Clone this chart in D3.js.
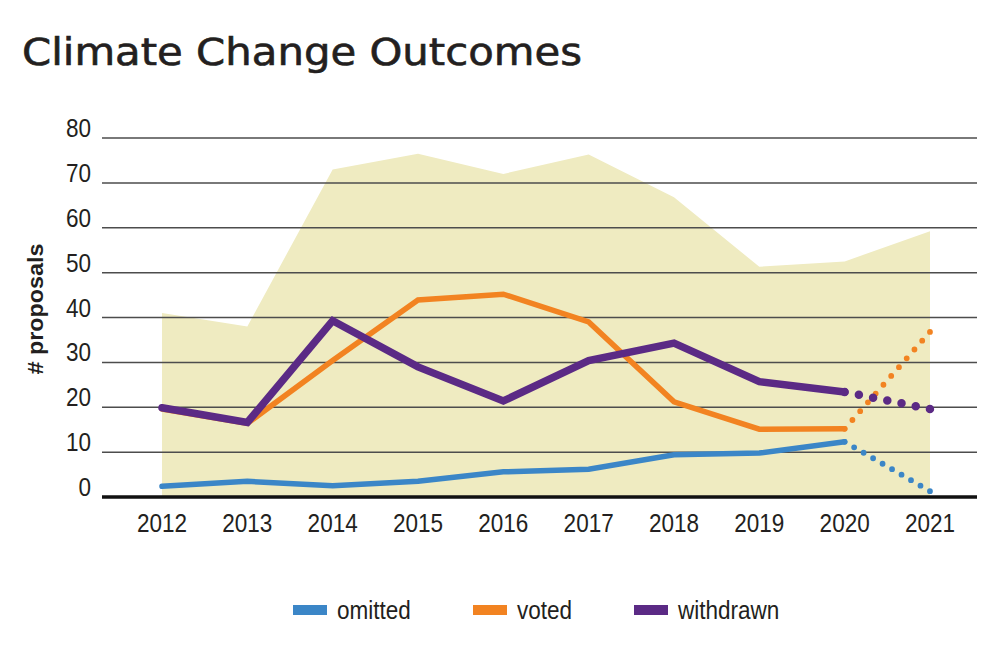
<!DOCTYPE html>
<html>
<head>
<meta charset="utf-8">
<script src="https://cdn.jsdelivr.net/npm/d3@7"></script>
<style>
  html, body { margin: 0; padding: 0; background: #fff; }
  svg { display: block; }
</style>
</head>
<body>
<svg id="chart" width="1000" height="655"></svg>
<script>
// ---- data ----
const years = [2012, 2013, 2014, 2015, 2016, 2017, 2018, 2019, 2020, 2021];
const total     = [41, 38, 73, 76.5, 72, 76.3, 66.8, 51.3, 52.5, 59.2];
const omitted   = [2.4, 3.5, 2.5, 3.5, 5.6, 6.2, 9.4, 9.8, 12.3, 1.3];
const voted     = [19.6, 16.4, 30.4, 43.9, 45.2, 39.0, 21.2, 15.1, 15.2, 36.8];
const withdrawn = [19.9, 16.6, 39.3, 29.0, 21.4, 30.4, 34.3, 25.7, 23.4, 19.6];
const yTicks = [0, 10, 20, 30, 40, 50, 60, 70, 80];
const seriesNames = ["omitted", "voted", "withdrawn"];
const seriesColors = ["#3b86c7", "#f28321", "#5b2a85"];

const svg = d3.select("#chart");
const x = d3.scaleLinear().domain([2012, 2021]).range([162, 930]);
const y = d3.scaleLinear().domain([0, 80]).range([497, 138]);
const FONT = "'Liberation Sans', Arial, sans-serif";
const SX = 0.85; // condensed look

// title
const title = svg.append("text")
  .attr("x", 0).attr("y", 0)
  .attr("font-family", "'DejaVu Sans', sans-serif")
  .attr("font-size", 37)
  .attr("fill", "#231f20")
  .attr("stroke", "#231f20")
  .attr("stroke-width", 0.6)
  .text("Climate Change Outcomes");
const tw = title.node().getComputedTextLength();
title.attr("transform", `translate(22,65) scale(${560 / tw},1)`);

// total area
svg.append("path")
  .datum(years.map((yr, i) => ({ yr, v: total[i] })))
  .attr("fill", "#efebc1")
  .attr("d", d3.area().x(d => x(d.yr)).y0(y(0)).y1(d => y(d.v)));

// grid lines
svg.append("g").selectAll("line").data(yTicks.filter(t => t > 0)).join("line")
  .attr("x1", 102).attr("x2", 977)
  .attr("y1", d => y(d)).attr("y2", d => y(d))
  .attr("stroke", "#4d4d4d").attr("stroke-width", 1.5);
svg.append("line")
  .attr("x1", 102).attr("x2", 977)
  .attr("y1", y(0)).attr("y2", y(0))
  .attr("stroke", "#111").attr("stroke-width", 3.5);

// y tick labels
svg.append("g").selectAll("text").data(yTicks).join("text")
  .attr("transform", d => `translate(91,${y(d) - 1}) scale(${SX},1)`)
  .attr("text-anchor", "end")
  .attr("font-family", FONT)
  .attr("font-size", 26.5)
  .attr("fill", "#231f20")
  .text(d => d);

// x tick labels
svg.append("g").selectAll("text").data(years).join("text")
  .attr("transform", d => `translate(${x(d)},532) scale(${SX},1)`)
  .attr("text-anchor", "middle")
  .attr("font-family", FONT)
  .attr("font-size", 26.5)
  .attr("fill", "#231f20")
  .text(d => d);

// y-axis title
svg.append("text")
  .attr("transform", "translate(43,309) rotate(-90) scale(1.04,1)")
  .attr("text-anchor", "middle")
  .attr("font-family", FONT)
  .attr("font-weight", "bold")
  .attr("font-size", 22.5)
  .attr("fill", "#231f20")
  .text("# proposals");

// lines
const allSeries = [omitted, voted, withdrawn];
const widths = [5.5, 5.5, 7.5];
const dotCounts = [9, 11, 6];
const line = d3.line().x(d => x(d.yr)).y(d => y(d.v));
allSeries.forEach((vals, si) => {
  const pts = years.map((yr, i) => ({ yr, v: vals[i] }));
  const solid = pts.slice(0, pts.length - 1);
  const proj = pts.slice(pts.length - 2);
  svg.append("path").datum(solid)
    .attr("fill", "none")
    .attr("stroke", seriesColors[si])
    .attr("stroke-width", widths[si])
    .attr("stroke-linecap", "round")
    .attr("stroke-linejoin", "miter")
    .attr("d", line);
  const p = svg.append("path").datum(proj)
    .attr("fill", "none")
    .attr("stroke", seriesColors[si])
    .attr("stroke-width", widths[si] + (si === 2 ? 1 : 0.3))
    .attr("stroke-linecap", "round")
    .attr("d", line);
  const L = p.node().getTotalLength();
  p.attr("stroke-dasharray", `0 ${(L - 0.05) / dotCounts[si]}`);
});

// legend
const legendX = [293, 473, 634];
const lg = svg.append("g");
seriesNames.forEach((name, i) => {
  lg.append("rect")
    .attr("x", legendX[i]).attr("y", 605)
    .attr("width", 34).attr("height", 10)
    .attr("fill", seriesColors[i]);
  lg.append("text")
    .attr("transform", `translate(${legendX[i] + 44},619) scale(${SX},1)`)
    .attr("font-family", FONT)
    .attr("font-size", 26.5)
    .attr("fill", "#231f20")
    .text(name);
});
</script>
</body>
</html>
